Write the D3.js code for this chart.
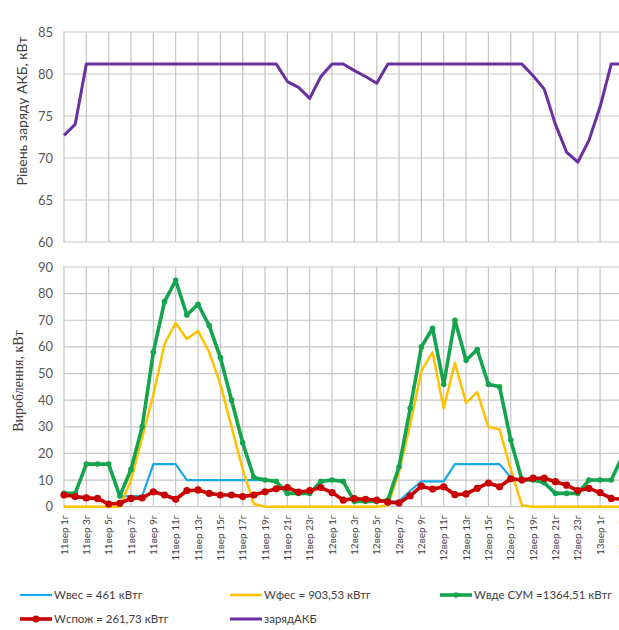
<!DOCTYPE html>
<html><head><meta charset="utf-8">
<script src="https://cdn.jsdelivr.net/npm/d3@7/dist/d3.min.js"></script>
<style>
html,body{margin:0;padding:0;background:#fff;overflow:hidden;}
svg{display:block;}
</style></head>
<body>
<svg id="chart" width="619" height="630"></svg>
<script>
const categories = [
"11вер 1г","11вер 2г","11вер 3г","11вер 4г","11вер 5г","11вер 6г","11вер 7г","11вер 8г",
"11вер 9г","11вер 10г","11вер 11г","11вер 12г","11вер 13г","11вер 14г","11вер 15г","11вер 16г",
"11вер 17г","11вер 18г","11вер 19г","11вер 20г","11вер 21г","11вер 22г","11вер 23г","11вер 24г",
"12вер 1г","12вер 2г","12вер 3г","12вер 4г","12вер 5г","12вер 6г","12вер 7г","12вер 8г",
"12вер 9г","12вер 10г","12вер 11г","12вер 12г","12вер 13г","12вер 14г","12вер 15г","12вер 16г",
"12вер 17г","12вер 18г","12вер 19г","12вер 20г","12вер 21г","12вер 22г","12вер 23г","12вер 24г",
"13вер 1г","13вер 2г","13вер 3г"
];
const wVes = [5,5,16,16,16,4,4,4,16,16,16,10,10,10,10,10,10,10,10,9.5,5,5,5,9.5,10,9.5,2,2,2,2,2,6,9.5,9.5,9.5,16,16,16,16,16,11,10,10,9,5,5,5,10,10,10,19];
const wFes = [0,0,0,0,0,0,10,26,42,61,69,63,66,58,46,30,14,1,0,0,0,0,0,0,0,0,0,0,0,0.5,13,31,51,58,37,54,39,43,30,29,14,0.5,0,0,0,0,0,0,0,0,0];
const wVdeSum = [5,5,16,16,16,4,14,30,58,77,85,72,76,68,56,40,24,11,10,9.5,5,5,5,9.5,10,9.5,2,2,2,2.5,15,37,60,67,46,70,55,59,46,45,25,10,10,9,5,5,5,10,10,10,19];
const wSpozh = [4.4,3.8,3.3,3.1,1,1.3,3.1,3.3,5.6,4.4,2.8,6,6.3,5,4.4,4.4,3.8,4.4,5.6,6.7,7.2,5.5,6,7.2,5.3,2.5,3,2.8,2.5,1.7,1.4,4.1,7.7,6.6,7.5,4.5,4.8,6.9,8.9,7.5,10.5,10,10.7,10.7,9.4,8.1,6,6.9,5.3,3.1,2.8];
const zaryadAKB = [72.7,74,81.2,81.2,81.2,81.2,81.2,81.2,81.2,81.2,81.2,81.2,81.2,81.2,81.2,81.2,81.2,81.2,81.2,81.2,79.1,78.4,77.1,79.7,81.2,81.2,80.4,79.7,78.9,81.2,81.2,81.2,81.2,81.2,81.2,81.2,81.2,81.2,81.2,81.2,81.2,81.2,79.8,78.2,74,70.7,69.5,72.1,76.1,81.2,81.2];
const topTicks = [60,65,70,75,80,85];
const bottomTicks = [0,10,20,30,40,50,60,70,80,90];
const legendLabels = ["Wвес = 461 кВтг","Wфес = 903,53 кВтг","Wвде СУМ =1364,51 кВтг","Wспож = 261,73 кВтг","зарядАКБ"];
const topTitle = "Рівень заряду АКБ, кВт";
const bottomTitle = "Вироблення, кВт";

const C = {ves:"#1aa7e6", fes:"#ffc000", sum:"#14a44d", spozh:"#c80000", akb:"#6a2fa0"};
const svg = d3.select("#chart");
const sans = "Lato, 'Open Sans', sans-serif";
const serif = "'Liberation Serif', 'DejaVu Serif', serif";
const grid = "#c6c6c6";

const idx = categories.map((d,i)=>i);
const x = d3.scaleLinear().domain([0,48]).range([64,600.1]);
const yTop = d3.scaleLinear().domain([60,85]).range([242,32]);
const yBot = d3.scaleLinear().domain([0,90]).range([506.7,267]);
const labelIdx = idx.filter(i=>i%2===0);

function panel(y, ticks){
  const g = svg.append("g");
  g.selectAll("line.h").data(ticks).join("line")
    .attr("x1",63).attr("x2",640).attr("y1",d=>y(d)).attr("y2",d=>y(d))
    .attr("stroke",grid).attr("stroke-width",1.2);
  g.selectAll("line.v").data(labelIdx).join("line")
    .attr("x1",d=>x(d)).attr("x2",d=>x(d)).attr("y1",y.range()[1]).attr("y2",y.range()[0])
    .attr("stroke",grid).attr("stroke-width",1.2);
  g.selectAll("text").data(ticks).join("text")
    .attr("x",53).attr("y",d=>y(d)).attr("dy","0.35em").attr("text-anchor","end")
    .attr("font-family",sans).attr("font-size",13).attr("fill","#595959").text(d=>d);
}
panel(yTop, topTicks);
panel(yBot, bottomTicks);

// titles
svg.append("text").attr("transform","translate(22,111) rotate(-90)").attr("text-anchor","middle")
  .attr("dy","0.35em").attr("font-family",sans).attr("font-size",14).attr("fill","#404040").text(topTitle);
svg.append("text").attr("transform","translate(18,381) rotate(-90)").attr("text-anchor","middle")
  .attr("dy","0.35em").attr("font-family",serif).attr("font-size",14).attr("fill","#404040").text(bottomTitle);

// x labels
svg.append("g").selectAll("text").data(labelIdx).join("text")
  .attr("transform",d=>`translate(${x(d)},515) rotate(-90)`)
  .attr("text-anchor","end").attr("dy","0.35em")
  .attr("font-family",sans).attr("font-size",10).attr("fill","#404040")
  .text(d=>categories[d]);

const line = (y, data) => d3.line().x((d,i)=>x(i)).y(d=>y(d))(data);

// top series
svg.append("path").attr("d",line(yTop,zaryadAKB)).attr("fill","none")
  .attr("stroke",C.akb).attr("stroke-width",3).attr("stroke-linejoin","round");

// bottom series
svg.append("path").attr("d",line(yBot,wVes)).attr("fill","none")
  .attr("stroke",C.ves).attr("stroke-width",2.2).attr("stroke-linejoin","round");
svg.append("path").attr("d",line(yBot,wFes)).attr("fill","none")
  .attr("stroke",C.fes).attr("stroke-width",2.5).attr("stroke-linejoin","round");
svg.append("path").attr("d",line(yBot,wVdeSum)).attr("fill","none")
  .attr("stroke",C.sum).attr("stroke-width",3.6).attr("stroke-linejoin","round");
svg.append("g").selectAll("circle").data(wVdeSum).join("circle")
  .attr("cx",(d,i)=>x(i)).attr("cy",d=>yBot(d)).attr("r",2.8).attr("fill",C.sum);
svg.append("path").attr("d",line(yBot,wSpozh)).attr("fill","none")
  .attr("stroke",C.spozh).attr("stroke-width",3.6).attr("stroke-linejoin","round");
svg.append("g").selectAll("circle").data(wSpozh).join("circle")
  .attr("cx",(d,i)=>x(i)).attr("cy",d=>yBot(d)).attr("r",3.6).attr("fill",C.spozh);

// legend
const leg = [
  {t:legendLabels[0], c:C.ves, x:20, y:595, w:2.2, m:0},
  {t:legendLabels[1], c:C.fes, x:230, y:595, w:2.5, m:0},
  {t:legendLabels[2], c:C.sum, x:440, y:595, w:3.6, m:2.8},
  {t:legendLabels[3], c:C.spozh, x:20, y:619, w:3.6, m:3.6},
  {t:legendLabels[4], c:C.akb, x:230, y:619, w:3, m:0}
];
const lg = svg.append("g").selectAll("g").data(leg).join("g");
lg.append("line").attr("x1",d=>d.x).attr("x2",d=>d.x+32).attr("y1",d=>d.y).attr("y2",d=>d.y)
  .attr("stroke",d=>d.c).attr("stroke-width",d=>d.w);
lg.filter(d=>d.m>0).append("circle").attr("cx",d=>d.x+16).attr("cy",d=>d.y).attr("r",d=>d.m).attr("fill",d=>d.c);
lg.append("text").attr("x",d=>d.x+34).attr("y",d=>d.y).attr("dy","0.35em")
  .attr("font-family",sans).attr("font-size",11.5).attr("fill","#404040").text(d=>d.t);
</script>
</body></html>
